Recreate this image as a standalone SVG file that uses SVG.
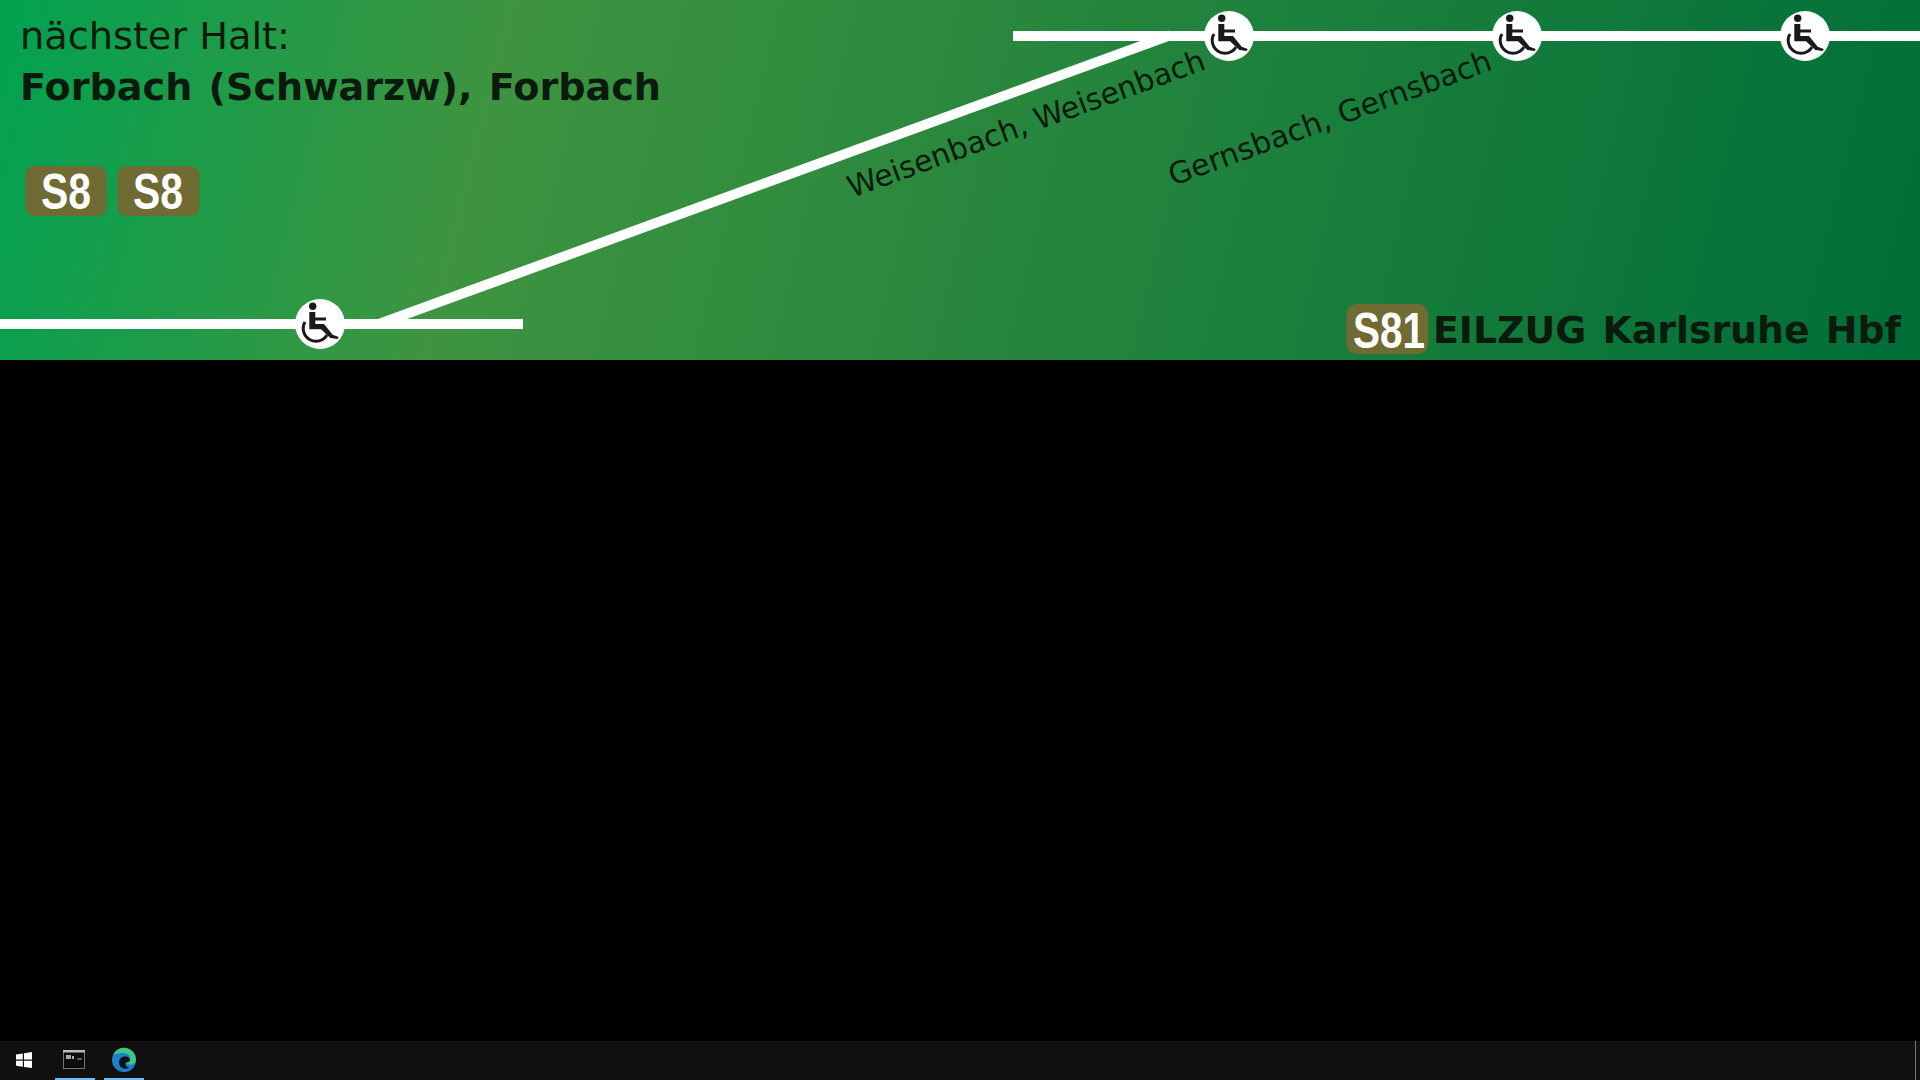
<svg xmlns="http://www.w3.org/2000/svg" width="1920" height="1080" viewBox="0 0 1920 1080">
<defs>
<linearGradient id="bg" gradientUnits="userSpaceOnUse" x1="0" y1="180" x2="1920" y2="180" gradientTransform="rotate(14 960 180)">
<stop offset="0" stop-color="#03a250"/><stop offset="0.25" stop-color="#3e9440"/><stop offset="1" stop-color="#006f38"/>
</linearGradient>
<g id="wc">
<circle r="25" fill="#fff"/>
<circle cx="-7.300" cy="-17.700" r="3.700" fill="#1a1a1a"/>
<path d="M-10.700,-12 L-4.700,-12 L-4.700,-6.500 L6,-6.500 L6,-3.500 L-4.700,-3.500 L-4.700,0 L4,0 L12.700,10.700 L18.700,13 L17.700,15 L10.300,14 L1,5.300 L-10.700,5.300 Z" fill="#1a1a1a"/>
<path d="M-15,-2 A12.500,12.500 0 1 0 7,11" fill="none" stroke="#1a1a1a" stroke-width="3"/>
</g>
</defs>
<style>
text{font-family:"DejaVu Sans","Liberation Sans",sans-serif;fill:#0a1a0c}
.b{font-weight:bold}
.st{font-size:30px}
.lb{fill:#fff;font-family:"Liberation Sans",sans-serif;font-weight:bold;font-size:50px}
.badge{fill:#706b32}
.ln{stroke:#fff;stroke-width:10;fill:none}
</style>
<rect width="1920" height="1080" fill="#000"/>
<rect id="panel" width="1920" height="360" fill="url(#bg)"/>
<g id="connectors">
<path class="ln" d="M0,324H523"/>
<path class="ln" d="M1013,36H1920"/>
<path d="M378,319 L1169,30.500 L1169,41 L407,319 Z" fill="#fff"/>
</g>
<g id="stop-forbach"><use href="#wc" x="320" y="324"/></g>
<g id="stop-weisenbach"><use href="#wc" x="1229" y="36"/></g>
<g id="stop-gernsbach"><use href="#wc" x="1517" y="36"/></g>
<g id="stop-next"><use href="#wc" x="1805" y="36"/></g>
<g id="header">
<text x="20" y="49" font-size="38" textLength="270" lengthAdjust="spacingAndGlyphs">nächster Halt:</text>
<text class="b" x="20" y="100" font-size="38" textLength="641" lengthAdjust="spacingAndGlyphs" word-spacing="3">Forbach (Schwarzw), Forbach</text>
</g>
<g id="badge-s8-1"><rect class="badge" x="25.500" y="166" width="81" height="50" rx="9"/><text class="lb" x="41" y="209" textLength="50" lengthAdjust="spacingAndGlyphs">S8</text></g>
<g id="badge-s8-2"><rect class="badge" x="117.500" y="166" width="82" height="50" rx="9"/><text class="lb" x="133" y="209" textLength="50" lengthAdjust="spacingAndGlyphs">S8</text></g>
<g id="label-weisenbach"><text class="st" transform="translate(852,198) rotate(-20)" textLength="378" lengthAdjust="spacingAndGlyphs">Weisenbach, Weisenbach</text></g>
<g id="label-gernsbach"><text class="st" transform="translate(1173,186) rotate(-20)">Gernsbach, Gernsbach</text></g>
<g id="badge-s81"><rect class="badge" x="1346.500" y="304" width="81.500" height="50" rx="10"/><text class="lb" x="1353" y="348" textLength="72" lengthAdjust="spacingAndGlyphs">S81</text></g>
<g id="service"><text class="b" x="1433" y="343" font-size="38" textLength="468" lengthAdjust="spacingAndGlyphs" word-spacing="3">EILZUG Karlsruhe Hbf</text></g>
<g id="taskbar">
<rect y="1041" width="1920" height="39" fill="#101010"/>
<path d="M16,1054.500 L22.800,1053.500 V1059.500 H16 Z M24,1053.300 L32,1052 V1059.500 H24 Z M16,1060.700 H22.800 V1066.700 L16,1065.700 Z M24,1060.700 H32 V1068 L24,1066.900 Z" fill="#fff"/>
<rect x="63.500" y="1050.500" width="21" height="18" fill="#0c0c0c" stroke="#777"/>
<rect x="63" y="1050" width="22" height="2.500" fill="#bbb"/>
<path d="M66,1055h5v4h-5z M72,1056h2v3h-2z M77,1058.500h5v1h-5z" fill="#aaa"/>
<circle cx="124" cy="1060" r="12" fill="#1b7fd0"/>
<path d="M113,1055 A12,12 0 0 1 136,1060 C136,1065 129,1066 127,1063 C133,1060 130,1053 123,1053 C118,1053 115,1054 113,1055 Z" fill="#3fc77f"/>
<path d="M119,1062 C119,1057 126,1055 129,1058 C131,1060 130,1062 127,1062 C124,1062 125,1066 129,1068 C123,1070 119,1067 119,1062 Z" fill="#101010"/>
<rect x="55" y="1078" width="40" height="2" fill="#76b9ed"/>
<rect x="104" y="1078" width="40" height="2" fill="#76b9ed"/>
<rect x="1915" y="1041" width="1" height="39" fill="#777"/>
</g>
</svg>
